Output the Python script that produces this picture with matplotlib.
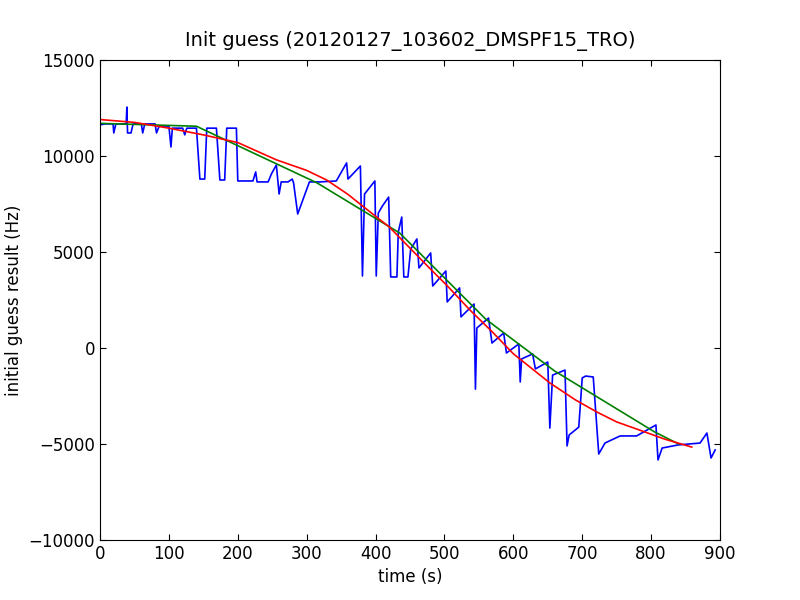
import matplotlib
matplotlib.use("Agg")
import matplotlib.pyplot as plt

blue_t = [0,7,19,20,23,38,39,40,45,48,60,62,65,80,82,86,100,103,105,120,123,126,140,145,152,155,169,174,181,184,198,200,222,226,228,244,249,256,260,263,273,279,281,287,304,319,343,358,360,378,381,384,399,401,404,410,419,422,431,433,438,441,447,451,460,463,480,483,502,504,522,524,543,545,547,564,569,586,590,608,610,612,628,632,650,653,657,675,678,681,695,700,705,716,724,733,755,779,807,810,816,839,871,881,887,893]
blue_f = [11620,11670,11670,11200,11670,11670,12550,11200,11200,11670,11670,11200,11670,11670,11200,11560,11560,10470,11450,11450,11100,11450,11450,8800,8800,11450,11450,8750,8750,11450,11450,8700,8700,9170,8650,8650,9080,9530,8020,8650,8650,8800,8600,6980,8650,8650,8700,9640,8800,9480,3750,8020,8700,3750,7030,7400,7860,3700,3700,6040,6820,3700,3700,5150,5680,4170,4950,3230,4010,2400,3130,1620,2290,-2140,1040,1560,260,780,-260,210,-1770,-570,-310,-1090,-730,-4170,-1410,-1150,-5100,-4530,-4120,-1560,-1460,-1510,-5520,-4950,-4580,-4580,-4010,-5830,-5210,-5050,-4950,-4430,-5730,-5310]

green_t = [0,140,315,435,560,660,805,840]
green_f = [11700,11550,8600,5990,1500,-1200,-4370,-5000]

red_t = [0,50,100,150,200,256,300,329,360,381,420,450,480,503,537,570,600,653,690,721,750,779,820,859]
red_f = [11900,11750,11450,11100,10700,9800,9250,8750,8000,7400,6300,5200,4100,3280,1980,820,-300,-1820,-2700,-3330,-3850,-4220,-4750,-5160]

fig = plt.figure(figsize=(8,6), dpi=100)
ax = fig.add_axes([0.125, 0.1, 0.775, 0.8])
ax.plot(blue_t, blue_f, color='blue', lw=1.2)
ax.plot(green_t, green_f, color='green', lw=1.2)
ax.plot(red_t, red_f, color='red', lw=1.2)
ax.set_xlim(0, 900)
ax.set_ylim(-10000, 15000)
ax.set_xticks(range(0, 901, 100))
ax.set_yticks(range(-10000, 15001, 5000))
ax.set_yticklabels(['\u221210000','\u22125000','0','5000','10000','15000'])
ax.tick_params(direction='in', length=4, labelsize=12, top=True, right=True)
ax.set_xlabel('time (s)', fontsize=12)
ax.set_ylabel('initial guess result (Hz)', fontsize=12)
ax.set_title('Init guess (20120127_103602_DMSPF15_TRO)', fontsize=14, pad=10)
fig.savefig('out.png')
